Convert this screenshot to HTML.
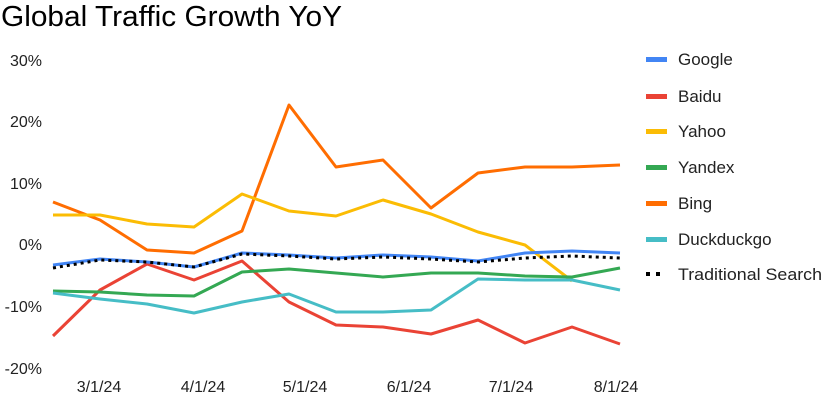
<!DOCTYPE html>
<html><head><meta charset="utf-8"><style>
html,body{margin:0;padding:0;background:#fff;}
svg{display:block;font-family:"Liberation Sans",Arial,sans-serif;}
</style></head><body>
<svg width="825" height="403" viewBox="0 0 825 403" xmlns="http://www.w3.org/2000/svg">
<text x="1" y="26" font-size="29" fill="#000" textLength="341" lengthAdjust="spacingAndGlyphs">Global Traffic Growth YoY</text>
<g font-size="16" fill="#222" text-anchor="end">
<text x="42" y="66">30%</text>
<text x="42" y="127">20%</text>
<text x="42" y="189">10%</text>
<text x="42" y="250">0%</text>
<text x="42" y="312">-10%</text>
<text x="42" y="374">-20%</text>
</g>
<g font-size="16" fill="#222" text-anchor="middle">
<text x="99" y="392">3/1/24</text>
<text x="203" y="392">4/1/24</text>
<text x="305" y="392">5/1/24</text>
<text x="409" y="392">6/1/24</text>
<text x="511" y="392">7/1/24</text>
<text x="616" y="392">8/1/24</text>
</g>
<g fill="none" stroke-width="3" stroke-linejoin="round">
<polyline stroke="#ff6d01" points="53,202 100,220 147,250 194,253 242,231 289,105 336,167 383,160 431,208 478,173 525,167 572,167 620,165"/>
<polyline stroke="#fbbc04" points="53,215 100,215 147,224 194,227 242,194 289,211 336,216 383,200 431,214 478,232 525,245 572,281"/>
<polyline stroke="#ea4335" points="53,336 100,290 147,264 194,280 242,261 289,302 336,325 383,327 431,334 478,320 525,343 572,327 620,344"/>
<polyline stroke="#34a853" points="53,291 100,292 147,295 194,296 242,272 289,269 336,273 383,277 431,273 478,273 525,276 572,277 620,268"/>
<polyline stroke="#46bdc6" points="53,293 100,299 147,304 194,313 242,302 289,294 336,312 383,312 431,310 478,279 525,280 572,280 620,290"/>
<polyline stroke="#4285f4" points="53,265 100,259 147,262 194,267 242,253 289,255 336,258 383,255 431,257 478,261 525,253 572,251 620,253"/>
<polyline stroke="#000" stroke-dasharray="3,4" points="53,268 100,260 147,262 194,267 242,254 289,256 336,259 383,257 431,259 478,262 525,258 572,256 620,258"/>
</g>
<g>
<rect x="646" y="57" width="21" height="5" fill="#4285f4"/>
<rect x="646" y="94" width="21" height="5" fill="#ea4335"/>
<rect x="646" y="129" width="21" height="5" fill="#fbbc04"/>
<rect x="646" y="165" width="21" height="5" fill="#34a853"/>
<rect x="646" y="201" width="21" height="5" fill="#ff6d01"/>
<rect x="646" y="237" width="21" height="5" fill="#46bdc6"/>
<rect x="646" y="272" width="4" height="4" fill="#000"/>
<rect x="656" y="272" width="4" height="4" fill="#000"/>
</g>
<g font-size="17" fill="#222">
<text x="678" y="65">Google</text>
<text x="678" y="102">Baidu</text>
<text x="678" y="137">Yahoo</text>
<text x="678" y="173">Yandex</text>
<text x="678" y="209">Bing</text>
<text x="678" y="245">Duckduckgo</text>
<text x="678" y="280" textLength="144" lengthAdjust="spacingAndGlyphs">Traditional Search</text>
</g>
</svg>
</body></html>
